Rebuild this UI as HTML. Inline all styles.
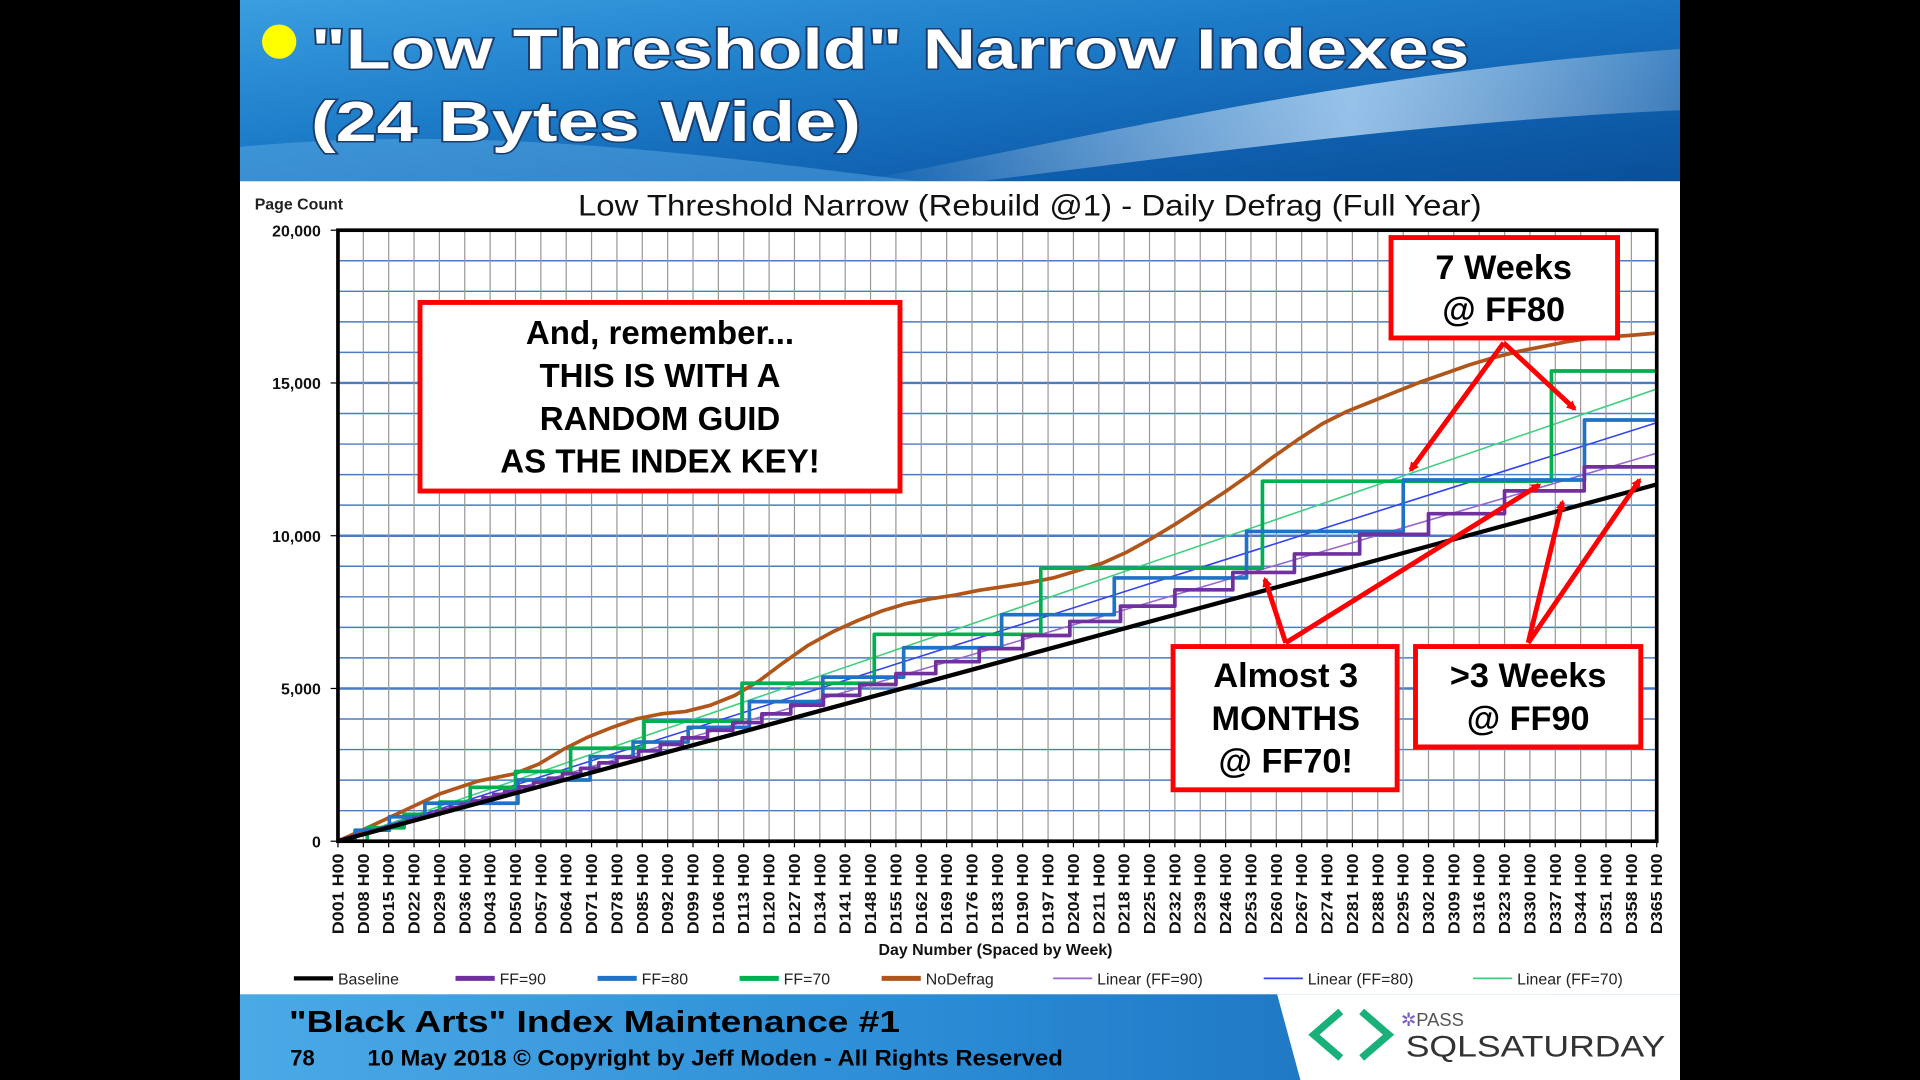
<!DOCTYPE html>
<html><head><meta charset="utf-8"><style>
html,body{margin:0;padding:0;background:#000;width:1920px;height:1080px;overflow:hidden}
svg{display:block}
text{font-family:"Liberation Sans",Arial,sans-serif}
</style></head><body>
<svg id="s" width="1920" height="1080" viewBox="0 0 1568 882" xmlns="http://www.w3.org/2000/svg">
<defs>
<linearGradient id="hg" x1="0" y1="0" x2="1" y2="1">
<stop offset="0" stop-color="#3a9ee0"/><stop offset="0.4" stop-color="#1d7cc8"/><stop offset="0.75" stop-color="#0f5fae"/><stop offset="1" stop-color="#0a4f98"/></linearGradient>
<linearGradient id="sw" x1="0" y1="0" x2="1" y2="0">
<stop offset="0" stop-color="#ffffff" stop-opacity="0"/><stop offset="0.6" stop-color="#cfe9ff" stop-opacity="0.7"/><stop offset="1" stop-color="#ffffff" stop-opacity="0.2"/></linearGradient>
<linearGradient id="fg" x1="0" y1="0" x2="1" y2="0">
<stop offset="0" stop-color="#4aaae6"/><stop offset="0.5" stop-color="#2a8ad4"/><stop offset="1" stop-color="#1466b4"/></linearGradient>
<marker id="ah" markerWidth="8" markerHeight="8" refX="6" refY="4" orient="auto" markerUnits="userSpaceOnUse"><path d="M0,0 L8,4 L0,8 z" fill="#ff0000"/></marker>
</defs>
<rect x="0" y="0" width="1568" height="882" fill="#000"/>
<rect x="196" y="0" width="1176" height="882" fill="#fff"/>
<rect x="196" y="0" width="1176" height="148" fill="url(#hg)"/>
<path d="M700,148 C900,110 1100,60 1372,40 L1372,90 C1150,100 950,130 800,148 Z" fill="url(#sw)"/>
<path d="M196,120 C400,100 600,130 750,148 L196,148 Z" fill="#6bb8ec" opacity="0.4"/>
<circle cx="228" cy="34" r="14" fill="#ffff00"/>
<text x="254" y="56" font-size="46" font-weight="bold" fill="#fff" stroke="#1b3d6e" stroke-width="2.5" paint-order="stroke" textLength="946" lengthAdjust="spacingAndGlyphs">"Low Threshold" Narrow Indexes</text>
<text x="254" y="115" font-size="46" font-weight="bold" fill="#fff" stroke="#1b3d6e" stroke-width="2.5" paint-order="stroke" textLength="449" lengthAdjust="spacingAndGlyphs">(24 Bytes Wide)</text>
<text x="208" y="171" font-size="13" font-weight="bold" fill="#222">Page Count</text>
<text x="472" y="176" font-size="24" fill="#111" textLength="738" lengthAdjust="spacingAndGlyphs">Low Threshold Narrow (Rebuild @1) - Daily Defrag (Full Year)</text>
<g id="grid"></g>
<g id="series"></g>
<rect x="276" y="188" width="1077" height="499" fill="none" stroke="#000" stroke-width="3"/>
<text x="813" y="780" font-size="13" font-weight="bold" text-anchor="middle" fill="#111">Day Number (Spaced by Week)</text>
<g id="legend" font-size="13" fill="#222"></g>
<g font-weight="bold" fill="#000" text-anchor="middle">
<rect x="343" y="247" width="392" height="154" fill="#fff" stroke="#ff0000" stroke-width="4"/>
<text x="539" y="281" font-size="27">And, remember...</text>
<text x="539" y="316" font-size="27">THIS IS WITH A</text>
<text x="539" y="351" font-size="27">RANDOM GUID</text>
<text x="539" y="386" font-size="27">AS THE INDEX KEY!</text>
<rect x="1136" y="194" width="185" height="82" fill="#fff" stroke="#ff0000" stroke-width="4"/>
<text x="1228" y="228" font-size="28">7 Weeks</text>
<text x="1228" y="262" font-size="28">@ FF80</text>
<rect x="958" y="528" width="183" height="117" fill="#fff" stroke="#ff0000" stroke-width="4"/>
<text x="1050" y="561" font-size="28">Almost 3</text>
<text x="1050" y="596" font-size="28">MONTHS</text>
<text x="1050" y="631" font-size="28">@ FF70!</text>
<rect x="1156" y="528" width="184" height="82" fill="#fff" stroke="#ff0000" stroke-width="4"/>
<text x="1248" y="561" font-size="28">&gt;3 Weeks</text>
<text x="1248" y="596" font-size="28">@ FF90</text>
</g>
<g stroke="#ff0000" stroke-width="4" marker-end="url(#ah)">
<line x1="1228" y1="280" x2="1152" y2="384"/>
<line x1="1228" y1="280" x2="1286" y2="334"/>
<line x1="1050" y1="525" x2="1033" y2="473"/>
<line x1="1050" y1="525" x2="1257" y2="396"/>
<line x1="1248" y1="525" x2="1276" y2="410"/>
<line x1="1248" y1="525" x2="1339" y2="392"/>
</g>
<rect x="196" y="812" width="1176" height="70" fill="url(#fg)"/>
<path d="M1043,812 L1372,812 L1372,882 L1062,882 Z" fill="#fff"/>
<text x="236" y="843" font-size="25" font-weight="bold" fill="#000" textLength="499" lengthAdjust="spacingAndGlyphs">"Black Arts" Index Maintenance #1</text>
<text x="237" y="870" font-size="18" font-weight="bold" fill="#000">78</text>
<text x="300" y="870" font-size="18" font-weight="bold" fill="#000" textLength="568" lengthAdjust="spacingAndGlyphs">10 May 2018 © Copyright by Jeff Moden - All Rights Reserved</text>
<path d="M1095,826 L1073,845 L1095,864" fill="none" stroke="#1ab07a" stroke-width="6"/>
<path d="M1112,826 L1134,845 L1112,864" fill="none" stroke="#1ab07a" stroke-width="6"/>
<text x="1144" y="838" font-size="15" fill="#555"><tspan fill="#7a5ac8">✲</tspan>PASS</text>
<text x="1148" y="863" font-size="24" fill="#333" textLength="212" lengthAdjust="spacingAndGlyphs">SQLSATURDAY</text>
</svg>
<script>
var NS="http://www.w3.org/2000/svg";
function el(p,t,a,txt){var e=document.createElementNS(NS,t);for(var k in a)e.setAttribute(k,a[k]);if(txt!=null)e.textContent=txt;p.appendChild(e);return e;}
var X0=276,X1=1353,Y0=687,YT=188;
function xd(d){return X0+(d-1)/364*(X1-X0);}
function yv(v){return Y0-v/20000*(Y0-YT);}
var g=document.getElementById('grid');
for(var v=1000;v<20000;v+=1000){el(g,'line',{x1:X0,x2:X1,y1:yv(v),y2:yv(v),stroke:'#4a7cc4','stroke-width':v%5000==0?2:1.2});}
for(var i=0;i<53;i++){var d=1+7*i,x=xd(d);
 if(i>0&&i<52)el(g,'line',{x1:x,x2:x,y1:YT,y2:Y0,stroke:'#999','stroke-width':1});
 el(g,'line',{x1:x,x2:x,y1:Y0,y2:Y0+5,stroke:'#000','stroke-width':1});
 var lab='D'+('00'+d).slice(-3)+' H00';
 el(g,'text',{x:0,y:0,'font-size':13,'font-weight':'bold','text-anchor':'end',fill:'#111',textLength:66,lengthAdjust:'spacingAndGlyphs',transform:'translate('+(x+4.5)+',697) rotate(-90)'},lab);}
for(var v=0;v<=20000;v+=5000){el(g,'text',{x:262,y:yv(v)+5,'font-size':13,'font-weight':'bold','text-anchor':'end',fill:'#111'},v.toLocaleString('en-US'));
 el(g,'line',{x1:270,x2:X0,y1:yv(v),y2:yv(v),stroke:'#000'});}
var s=document.getElementById('series');
var END=11680;function B(d){return END*(d-1)/364;}
function line(pts,c,w){el(s,'polyline',{points:pts.map(function(p){return p[0].toFixed(1)+','+p[1].toFixed(1)}).join(' '),fill:'none',stroke:c,'stroke-width':w,'stroke-linejoin':'round'});}
function hsteps(st){var pts=[[276,687]],py=687;st.forEach(function(p){pts.push([p[0],py]);pts.push([p[0],p[1]]);py=p[1];});pts.push([1353,py]);return pts;}
line([[X0,Y0],[X1,yv(14800)]],'#3fcf7f',1.3);
line([[X0,Y0],[X1,yv(13700)]],'#3344ee',1.3);
line([[X0,Y0],[X1,yv(12700)]],'#9966cc',1.3);
var nd=[[276,687],[300,676],[330,662],[360,648],[390,638],[420,632],[440,624],[460,612],[480,602],[500,594],[520,587],[540,583],[560,581],[580,576],[600,568],[620,556],[640,541],[660,527],[680,516],[700,507],[720,499],[740,493],[760,489],[780,486],[800,482],[820,479],[840,476],[860,472],[880,466],[900,460],[920,451],[940,440],[960,428],[980,415],[1000,402],[1020,388],[1040,373],[1060,359],[1080,346],[1100,336],[1120,328],[1140,320],[1160,312],[1180,305],[1200,298],[1220,292],[1240,287],[1260,283],[1280,279],[1300,276],[1330,274],[1353,272]];
line(nd,'#b0561a',3);
line(hsteps([[300,676],[330,665],[359,655],[384,643],[421,630],[466,611],[526,589],[606,558],[714,518],[850,464],[1031,393],[1267,303]]),'#00b050',3);
line(hsteps([[290,678],[318,667],[347,656],[423,637],[482,618],[517,606],[562,594],[612,573],[672,553],[738,529],[818,502],[910,472],[1018,434],[1146,392],[1294,343]]),'#1f72c4',3);
(function(){var pts=[],L=0;for(var d=1;d<=365;d++){var b=B(d);if(b*1.04>=L||L==0){var nl=Math.max(b*1.11,b+30);pts.push([xd(d),yv(L)]);L=nl;}pts.push([xd(d),yv(L)]);}line(pts,'#7030a0',3);})();
line([[X0,Y0],[X1,yv(END)]],'#000',3.5);
var lg=document.getElementById('legend');
var items=[[240,'#000',3.5,'Baseline'],[372,'#7030a0',4,'FF=90'],[488,'#1f72c4',4,'FF=80'],[604,'#00b050',4,'FF=70'],[720,'#b0561a',4,'NoDefrag'],[860,'#9966cc',1.5,'Linear (FF=90)'],[1032,'#3344ee',1.5,'Linear (FF=80)'],[1203,'#3fcf7f',1.5,'Linear (FF=70)']];
items.forEach(function(it){el(lg,'line',{x1:it[0],x2:it[0]+32,y1:799,y2:799,stroke:it[1],'stroke-width':it[2]});el(lg,'text',{x:it[0]+36,y:804},it[3]);});
</script>
</body></html>
